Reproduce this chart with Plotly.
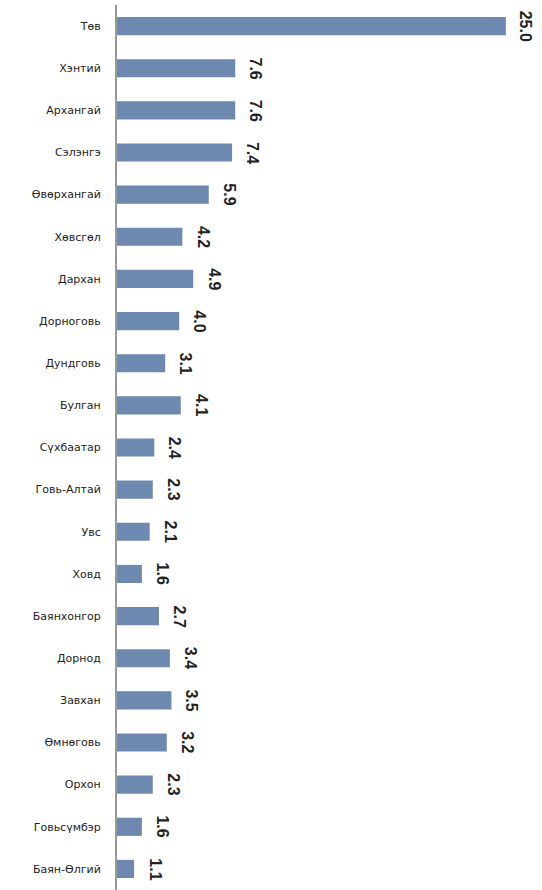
import plotly.graph_objects as go

categories = ["Төв", "Хэнтий", "Архангай", "Сэлэнгэ", "Өвөрхангай", "Хөвсгөл", "Дархан",
              "Дорноговь", "Дундговь", "Булган", "Сүхбаатар", "Говь-Алтай", "Увс", "Ховд",
              "Баянхонгор", "Дорнод", "Завхан", "Өмнөговь", "Орхон", "Говьсүмбэр", "Баян-Өлгий"]
values = [25.0, 7.6, 7.6, 7.4, 5.9, 4.2, 4.9, 4.0, 3.1, 4.1, 2.4, 2.3, 2.1, 1.6,
          2.7, 3.4, 3.5, 3.2, 2.3, 1.6, 1.1]

fig = go.Figure(go.Bar(
    y=categories, x=values, orientation="h",
    marker=dict(color="#6d89b0", line=dict(width=0)),
    cliponaxis=False, hoverinfo="skip",
))
for c, v in zip(categories, values):
    fig.add_annotation(x=v, y=c, text=f"{v:.1f}", showarrow=False,
                       xanchor="left", yanchor="middle", xshift=10, textangle=90,
                       font=dict(family="Liberation Sans", size=16, color="#222222", weight="bold"))
fig.update_layout(
    width=542, height=890,
    margin=dict(l=117, r=5, t=5, b=0, autoexpand=False),
    plot_bgcolor="white", paper_bgcolor="white",
    bargap=0.57, showlegend=False,
    font=dict(family="Liberation Sans", color="#222222"),
)
fig.update_xaxes(range=[0, 27], visible=False, showgrid=False, zeroline=False, automargin=False)
fig.update_yaxes(autorange="reversed", showline=True, linecolor="#999999", linewidth=2,
                 showgrid=False, ticks="outside", ticklen=12, tickcolor="white",
                 automargin=False,
                 tickfont=dict(family="DejaVu Sans", size=11, color="#222222"))
fig.write_html("out.html", config={"displayModeBar": False},
               post_script="document.body.style.margin='0';document.body.style.overflow='hidden';")
